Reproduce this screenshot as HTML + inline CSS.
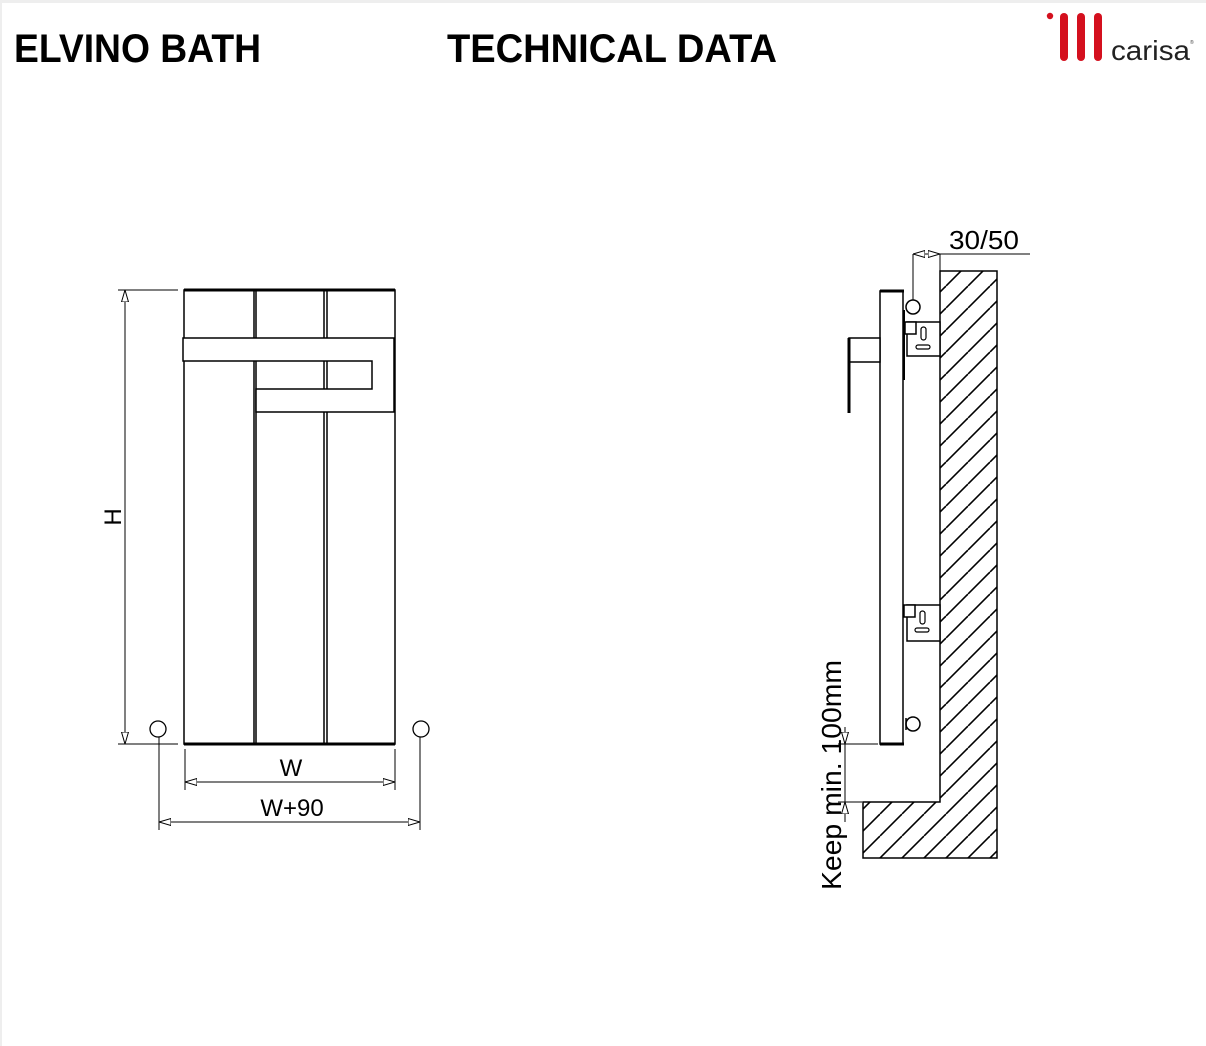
<!DOCTYPE html>
<html><head><meta charset="utf-8"><style>
html,body{margin:0;padding:0;background:#fff;}
svg{display:block;}
</style></head><body>
<svg width="1206" height="1046" viewBox="0 0 1206 1046" xmlns="http://www.w3.org/2000/svg" font-family="Liberation Sans, sans-serif">
<defs>
<pattern id="h" patternUnits="userSpaceOnUse" width="22" height="22">
<line x1="0" y1="22" x2="22" y2="0" stroke="#000" stroke-width="1.6"/>
<line x1="-22" y1="22" x2="0" y2="0" stroke="#000" stroke-width="1.6"/>
<line x1="22" y1="22" x2="44" y2="0" stroke="#000" stroke-width="1.6"/>
</pattern>
<marker id="a" viewBox="0 0 12 8" refX="12" refY="4" markerWidth="12" markerHeight="8" orient="auto-start-reverse" markerUnits="userSpaceOnUse">
<path d="M0,0.5 L12,4 L0,7.5 Z" fill="#fff" stroke="#000" stroke-width="1"/>
</marker>
</defs>
<rect x="0" y="0" width="1206" height="3" fill="#eee"/>
<rect x="0" y="0" width="2" height="1046" fill="#eee"/>
<text x="14" y="62" font-size="40" font-weight="bold" textLength="247" lengthAdjust="spacingAndGlyphs">ELVINO BATH</text>
<text x="447" y="62" font-size="40" font-weight="bold" textLength="330" lengthAdjust="spacingAndGlyphs">TECHNICAL DATA</text>
<!-- logo -->
<circle cx="1050" cy="16" r="3.2" fill="#d4101e"/>
<rect x="1060" y="13" width="8" height="48" rx="4" fill="#d4101e"/>
<rect x="1077" y="13" width="8" height="48" rx="4" fill="#d4101e"/>
<rect x="1094" y="13" width="8" height="48" rx="4" fill="#d4101e"/>
<text x="1111" y="60" font-size="28" fill="#222" textLength="79" lengthAdjust="spacingAndGlyphs">carisa</text>
<text x="1190" y="44" font-size="5" fill="#444">®</text>

<g fill="none" stroke="#000" stroke-width="1.5">
<rect x="184" y="290" width="70" height="454"/>
<rect x="256" y="290" width="68" height="454"/>
<rect x="327" y="290" width="68" height="454"/>
<line x1="184" y1="290" x2="395" y2="290" stroke-width="3"/>
<line x1="184" y1="744" x2="395" y2="744" stroke-width="3"/>
<path d="M183,338 H394 V412 H256 V389 H372 V361 H183 Z" fill="#fff"/>
<line x1="118" y1="290" x2="178" y2="290" stroke-width="1"/>
<line x1="118" y1="744" x2="178" y2="744" stroke-width="1"/>
<line x1="125" y1="290" x2="125" y2="744" stroke-width="1" marker-start="url(#a)" marker-end="url(#a)"/>
<circle cx="158" cy="729" r="8" stroke-width="1.3"/>
<circle cx="421" cy="729" r="8" stroke-width="1.3"/>
<line x1="159" y1="737" x2="159" y2="830" stroke-width="1"/>
<line x1="420" y1="737" x2="420" y2="830" stroke-width="1"/>
<line x1="185" y1="749" x2="185" y2="790" stroke-width="1"/>
<line x1="395" y1="749" x2="395" y2="790" stroke-width="1"/>
<line x1="185" y1="782" x2="395" y2="782" stroke-width="1" marker-start="url(#a)" marker-end="url(#a)"/>
<line x1="159" y1="822" x2="420" y2="822" stroke-width="1" marker-start="url(#a)" marker-end="url(#a)"/>
</g>
<text x="291" y="776" font-size="24" text-anchor="middle">W</text>
<text x="292" y="816" font-size="24" text-anchor="middle">W+90</text>
<text transform="translate(121,517) rotate(-90)" font-size="24" text-anchor="middle">H</text>

<path d="M940,271 H997 V858 H863 V802 H940 Z" fill="url(#h)" stroke="#000" stroke-width="1.5"/>
<g fill="none" stroke="#000" stroke-width="1.5">
<rect x="880" y="291" width="23" height="453" fill="#fff"/>
<line x1="880" y1="291" x2="904" y2="291" stroke-width="3"/>
<line x1="880" y1="744" x2="904" y2="744" stroke-width="3"/>
<line x1="904" y1="310" x2="904" y2="380" stroke-width="2"/>
<rect x="849" y="338" width="31" height="24" fill="#fff"/>
<line x1="849" y1="338" x2="849" y2="413" stroke-width="3"/>
<rect x="907" y="322" width="33" height="34" fill="#fff"/>
<rect x="905" y="322" width="11" height="12" fill="#fff"/>
<rect x="921" y="327" width="5" height="13" rx="2.5" stroke-width="1.2"/>
<rect x="916" y="345" width="14" height="4" rx="2" stroke-width="1.2"/>
<circle cx="913" cy="307" r="7"/>
<rect x="907" y="605" width="33" height="36" fill="#fff"/>
<rect x="904" y="605" width="11" height="12" fill="#fff"/>
<rect x="920" y="611" width="5" height="13" rx="2.5" stroke-width="1.2"/>
<rect x="915" y="628" width="14" height="4" rx="2" stroke-width="1.2"/>
<circle cx="913" cy="724" r="7"/>
<line x1="906" y1="718" x2="906" y2="730"/>
<line x1="913" y1="254" x2="913" y2="300" stroke-width="1"/>
<line x1="940" y1="254" x2="940" y2="271" stroke-width="1"/>
<line x1="940" y1="254" x2="1030" y2="254" stroke-width="1"/>
<line x1="913" y1="254" x2="940" y2="254" stroke-width="1" marker-start="url(#a)" marker-end="url(#a)"/>
<line x1="838" y1="744" x2="878" y2="744" stroke-width="1"/>
<line x1="838" y1="802" x2="862" y2="802" stroke-width="1"/>
<line x1="845" y1="744" x2="845" y2="802" stroke-width="1"/>
<line x1="845" y1="727" x2="845" y2="744" stroke-width="1" marker-end="url(#a)"/>
<line x1="845" y1="822" x2="845" y2="802" stroke-width="1" marker-end="url(#a)"/>
</g>
<text x="984" y="249" font-size="26" text-anchor="middle" textLength="70" lengthAdjust="spacingAndGlyphs">30/50</text>
<text transform="translate(841,890) rotate(-90)" font-size="28" textLength="230" lengthAdjust="spacingAndGlyphs">Keep min. 100mm</text>
</svg>
</body></html>
